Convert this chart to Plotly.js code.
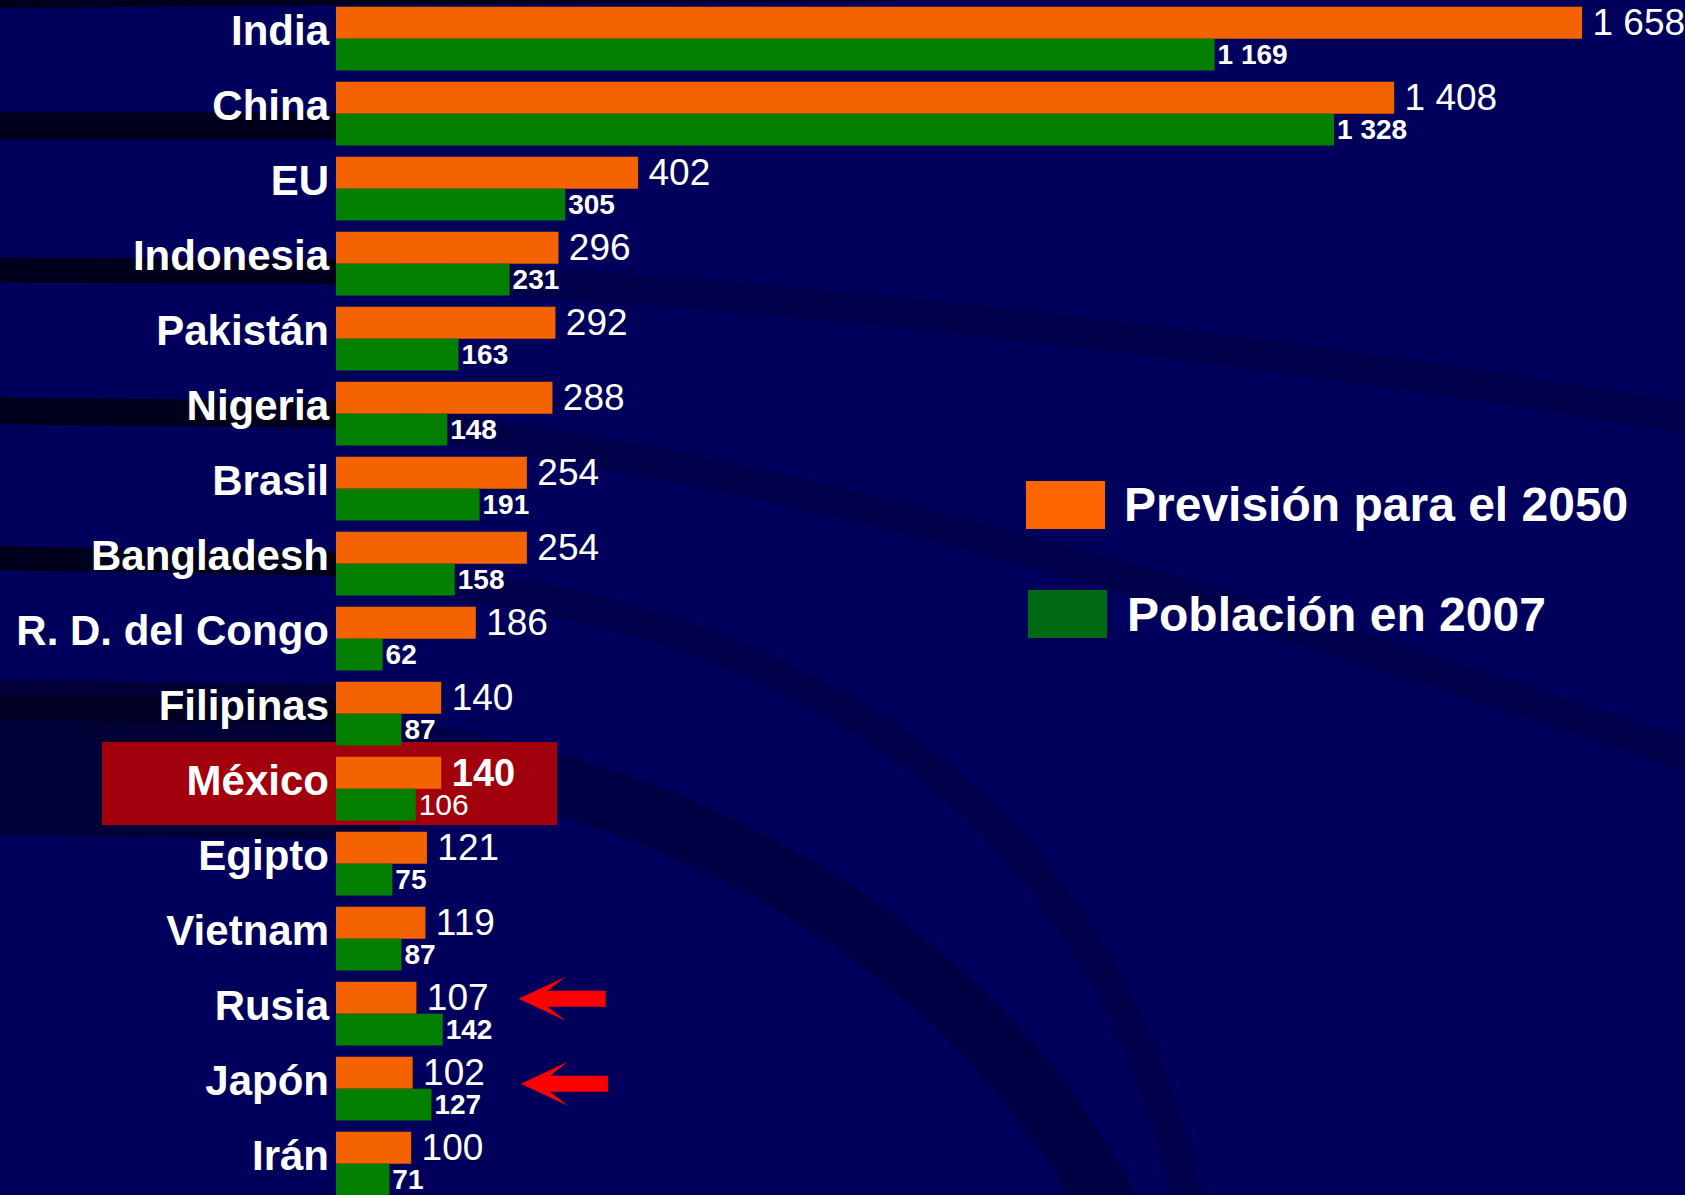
<!DOCTYPE html>
<html>
<head>
<meta charset="utf-8">
<script src="https://cdn.plot.ly/plotly-3.0.1.min.js"></script>
<style>
  html, body { margin: 0; padding: 0; background: #00005a; }
  #graph { width: 1685px; height: 1195px; }
</style>
</head>
<body>
<div id="graph"></div>
<script>
// countries, top to bottom
var countries = ['India', 'China', 'EU', 'Indonesia', 'Pakistán', 'Nigeria', 'Brasil', 'Bangladesh',
  'R. D. del Congo', 'Filipinas', 'México', 'Egipto', 'Vietnam', 'Rusia', 'Japón', 'Irán'];

// population in millions
var pop2050 = [1658, 1408, 402, 296, 292, 288, 254, 254, 186, 140, 140, 121, 119, 107, 102, 100];
var pop2007 = [1169, 1328, 305, 231, 163, 148, 191, 158, 62, 87, 106, 75, 87, 142, 127, 71];

var name2050 = 'Previsión para el 2050';
var name2007 = 'Población en 2007';
var highlight = 'México';

var W = 1685, H = 1195, L = 336;
var fontFam = 'Liberation Sans, Arial, sans-serif';

// pixel -> paper helpers for the decoration
function px(x) { return (x - L) / (W - L); }
function py(y) { return 1 - y / H; }
function P(x, y) { return px(x) + ',' + py(y); }

// "1 658" style thousands
function fmt(v) {
  return String(v).replace(/\B(?=(\d{3})+(?!\d))/g, ' ');
}

var hi = countries.indexOf(highlight);

var trace2050 = {
  type: 'bar',
  orientation: 'h',
  name: name2050,
  y: countries,
  x: pop2050,
  text: pop2050.map(function (v) { return '\u2009' + fmt(v); }),
  textposition: 'outside',
  textangle: 0,
  constraintext: 'none',
  cliponaxis: false,
  textfont: {
    family: fontFam,
    color: 'white',
    size: countries.map(function (c, i) { return i === hi ? 38 : 37; }),
    weight: countries.map(function (c, i) { return i === hi ? 'bold' : 'normal'; })
  },
  marker: { color: '#f56300', line: { width: 0 } },
  hoverinfo: 'none'
};

var trace2007 = {
  type: 'bar',
  orientation: 'h',
  name: name2007,
  y: countries,
  x: pop2007,
  text: pop2007.map(fmt),
  textposition: 'outside',
  textangle: 0,
  constraintext: 'none',
  cliponaxis: false,
  textfont: {
    family: fontFam,
    color: 'white',
    size: countries.map(function (c, i) { return i === hi ? 30 : 28; }),
    weight: countries.map(function (c, i) { return i === hi ? 'normal' : 'bold'; })
  },
  marker: { color: '#048000', line: { width: 0 } },
  hoverinfo: 'none'
};

// dark swooshes in the background
function band(d, w, c) {
  return { type: 'path', xref: 'paper', yref: 'paper', layer: 'below', path: d,
    line: { color: c, width: w } };
}
var strong = 'rgba(0,0,12,0.8)';
var faint = 'rgba(0,0,12,0.2)';

var shapes = [
  // stripes on the left side
  band('M' + P(-10, 3) + ' L' + P(900, -4), 10, strong),
  band('M' + P(-10, 126) + ' L' + P(500, 126), 27, strong),
  band('M' + P(-10, 270) + ' L' + P(400, 272), 25, strong),
  band('M' + P(-10, 411) + ' L' + P(400, 415), 27, strong),
  band('M' + P(-10, 558) + ' L' + P(400, 565), 24, strong),
  band('M' + P(-10, 765) + ' L' + P(400, 770), 140, 'rgba(0,0,10,0.45)'),
  band('M' + P(-10, 700) + ' L' + P(400, 705), 40, 'rgba(0,0,10,0.45)'),
  // fading curves on the right
  band('M' + P(330, 274) + ' Q' + P(900, 290) + ' ' + P(1700, 420), 30, faint),
  band('M' + P(330, 418) + ' Q' + P(800, 450) + ' ' + P(1700, 760), 30, faint),
  band('M' + P(330, 572) + ' C' + P(800, 600) + ' ' + P(1100, 800) + ' ' + P(1190, 1210), 30, faint),
  band('M' + P(330, 745) + ' C' + P(600, 760) + ' ' + P(950, 900) + ' ' + P(1110, 1210), 60, 'rgba(0,0,10,0.28)'),
  // highlight box for México
  { type: 'rect', xref: 'paper', yref: 'paper', layer: 'below',
    x0: px(102), x1: px(557), y0: py(825), y1: py(742),
    fillcolor: '#a3000e', line: { width: 0 } },
  // legend swatches
  { type: 'rect', xref: 'paper', yref: 'paper', x0: px(1026), x1: px(1105), y0: py(529), y1: py(481),
    fillcolor: '#ff6600', line: { width: 0 } },
  { type: 'rect', xref: 'paper', yref: 'paper', x0: px(1028), x1: px(1107), y0: py(638), y1: py(590),
    fillcolor: '#006a12', line: { width: 0 } }
];

// red arrows pointing at Rusia and Japón
function arrowPath(dy) {
  var pts = [[0, 0], [47, 22], [29, 8], [87, 8], [87, -8], [29, -8], [47, -22]];
  return 'M' + pts.map(function (p) { return p[0] + ',' + (p[1] + dy); }).join(' L') + ' Z';
}
[['Rusia', 243, 15], ['Japón', 246, 5]].forEach(function (a) {
  shapes.push({
    type: 'path', xref: 'x', yref: 'y',
    xsizemode: 'pixel', ysizemode: 'pixel',
    xanchor: a[1], yanchor: countries.indexOf(a[0]),
    path: arrowPath(a[2]),
    fillcolor: '#ff0000', line: { width: 0 }
  });
});

var annotations = [
  { xref: 'paper', yref: 'paper', x: px(1122), y: py(505), xanchor: 'left', yanchor: 'middle',
    text: name2050, showarrow: false,
    font: { family: fontFam, size: 48, color: 'white', weight: 'bold' } },
  { xref: 'paper', yref: 'paper', x: px(1125), y: py(614), xanchor: 'left', yanchor: 'middle',
    text: name2007, showarrow: false,
    font: { family: fontFam, size: 48, color: 'white', weight: 'bold' } }
];

var layout = {
  width: W,
  height: H,
  margin: { l: L, r: 0, t: 0, b: 0, pad: 0 },
  paper_bgcolor: '#00005c',
  plot_bgcolor: 'rgba(0,0,0,0)',
  barmode: 'group',
  bargap: 0.15,
  bargroupgap: 0,
  showlegend: false,
  xaxis: { range: [0, 1795], visible: false, fixedrange: true },
  yaxis: {
    type: 'category',
    range: [15.417, -0.516],
    showgrid: false, zeroline: false, showline: false,
    ticks: '',
    ticklabelstandoff: 6,
    ticklabelshift: 8,
    tickfont: { family: fontFam, size: 42, color: 'white', weight: 'bold' },
    fixedrange: true
  },
  shapes: shapes,
  annotations: annotations,
  font: { family: fontFam, color: 'white' }
};

Plotly.newPlot('graph', [trace2050, trace2007], layout, { displayModeBar: false, staticPlot: true });
</script>
</body>
</html>
